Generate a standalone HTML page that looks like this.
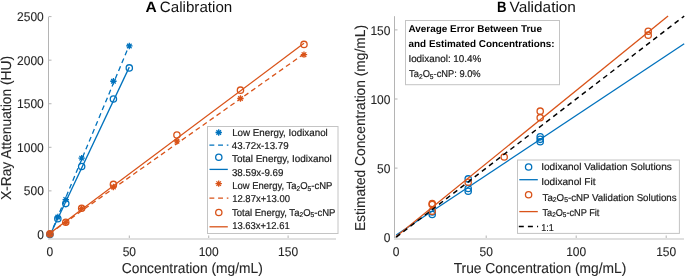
<!DOCTYPE html>
<html><head><meta charset="utf-8"><style>
html,body{margin:0;padding:0;background:#fff;}
body{width:685px;height:277px;overflow:hidden;}
svg{display:block;font-family:"Liberation Sans",sans-serif;text-rendering:geometricPrecision;will-change:transform;}
</style></head><body>
<svg width="685" height="277" viewBox="0 0 685 277">
<rect x="48" y="16.6" width="1" height="222.4" fill="#b4b4b4"/>
<rect x="48" y="238" width="288" height="2" fill="#e0e0e0"/>
<rect x="49" y="233.94" width="2.5" height="1" fill="#b4b4b4"/>
<text transform="translate(43.80,238.99) scale(0.9449,1)" font-size="12.7" text-anchor="end" fill="#262626" stroke="#262626" stroke-width="0.1">0</text>
<rect x="49" y="190.37" width="2.5" height="1" fill="#b4b4b4"/>
<text transform="translate(43.80,195.42) scale(0.9449,1)" font-size="12.7" text-anchor="end" fill="#262626" stroke="#262626" stroke-width="0.1">500</text>
<rect x="49" y="146.80" width="2.5" height="1" fill="#b4b4b4"/>
<text transform="translate(43.80,151.85) scale(0.9449,1)" font-size="12.7" text-anchor="end" fill="#262626" stroke="#262626" stroke-width="0.1">1000</text>
<rect x="49" y="103.23" width="2.5" height="1" fill="#b4b4b4"/>
<text transform="translate(43.80,108.28) scale(0.9449,1)" font-size="12.7" text-anchor="end" fill="#262626" stroke="#262626" stroke-width="0.1">1500</text>
<rect x="49" y="59.66" width="2.5" height="1" fill="#b4b4b4"/>
<text transform="translate(43.80,64.71) scale(0.9449,1)" font-size="12.7" text-anchor="end" fill="#262626" stroke="#262626" stroke-width="0.1">2000</text>
<rect x="49" y="16.09" width="2.5" height="1" fill="#b4b4b4"/>
<text transform="translate(43.80,21.14) scale(0.9449,1)" font-size="12.7" text-anchor="end" fill="#262626" stroke="#262626" stroke-width="0.1">2500</text>
<rect x="49.40" y="235.5" width="1" height="2.5" fill="#b4b4b4"/>
<text transform="translate(49.90,255.60) scale(0.9449,1)" font-size="12.7" text-anchor="middle" fill="#262626" stroke="#262626" stroke-width="0.1">0</text>
<rect x="128.80" y="235.5" width="1" height="2.5" fill="#b4b4b4"/>
<text transform="translate(129.30,255.60) scale(0.9449,1)" font-size="12.7" text-anchor="middle" fill="#262626" stroke="#262626" stroke-width="0.1">50</text>
<rect x="208.20" y="235.5" width="1" height="2.5" fill="#b4b4b4"/>
<text transform="translate(208.70,255.60) scale(0.9449,1)" font-size="12.7" text-anchor="middle" fill="#262626" stroke="#262626" stroke-width="0.1">100</text>
<rect x="287.60" y="235.5" width="1" height="2.5" fill="#b4b4b4"/>
<text transform="translate(288.10,255.60) scale(0.9449,1)" font-size="12.7" text-anchor="middle" fill="#262626" stroke="#262626" stroke-width="0.1">150</text>
<text transform="translate(192.30,272.60) scale(0.9583,1)" font-size="14.4" text-anchor="middle" fill="#262626" stroke="#262626" stroke-width="0.1">Concentration (mg/mL)</text>
<text transform="translate(11.20,128.00) rotate(-90) scale(0.9583,1)" font-size="14.4" text-anchor="middle" fill="#262626" stroke="#262626" stroke-width="0.1">X-Ray Attenuation (HU)</text>
<text transform="translate(145.60,11.70) scale(1.0357,1)" font-size="15" fill="#000" stroke="#000" stroke-width="0.0" font-weight="bold">A</text>
<text transform="translate(159.86,11.70) scale(1.0093,1)" font-size="15" fill="#111" stroke="#111" stroke-width="0.0" font-weight="normal">Calibration</text>
<path d="M46.70 234.44L53.10 234.44M47.64 232.18L52.16 236.70M49.90 231.24L49.90 237.64M52.16 232.18L47.64 236.70" stroke="#0072BD" stroke-width="1.3" fill="none"/>
<path d="M54.64 217.01L61.04 217.01M55.58 214.75L60.10 219.27M57.84 213.81L57.84 220.21M60.10 214.75L55.58 219.27" stroke="#0072BD" stroke-width="1.3" fill="none"/>
<path d="M62.58 199.58L68.98 199.58M63.52 197.32L68.04 201.85M65.78 196.38L65.78 202.78M68.04 197.32L63.52 201.85" stroke="#0072BD" stroke-width="1.3" fill="none"/>
<path d="M78.46 158.11L84.86 158.11M79.40 155.84L83.92 160.37M81.66 154.91L81.66 161.31M83.92 155.84L79.40 160.37" stroke="#0072BD" stroke-width="1.3" fill="none"/>
<path d="M110.22 81.25L116.62 81.25M111.16 78.99L115.68 83.51M113.42 78.05L113.42 84.45M115.68 78.99L111.16 83.51" stroke="#0072BD" stroke-width="1.3" fill="none"/>
<path d="M126.10 45.96L132.50 45.96M127.04 43.69L131.56 48.22M129.30 42.76L129.30 49.16M131.56 43.69L127.04 48.22" stroke="#0072BD" stroke-width="1.3" fill="none"/>
<line x1="49.90" y1="235.64" x2="129.30" y2="45.15" stroke="#0072BD" stroke-width="1.3" stroke-dasharray="5 3.5"/>
<circle cx="49.90" cy="234.44" r="3.15" stroke="#0072BD" stroke-width="1.3" fill="none"/>
<circle cx="57.84" cy="218.75" r="3.15" stroke="#0072BD" stroke-width="1.3" fill="none"/>
<circle cx="65.78" cy="203.59" r="3.15" stroke="#0072BD" stroke-width="1.3" fill="none"/>
<circle cx="81.66" cy="166.56" r="3.15" stroke="#0072BD" stroke-width="1.3" fill="none"/>
<circle cx="113.42" cy="98.94" r="3.15" stroke="#0072BD" stroke-width="1.3" fill="none"/>
<circle cx="129.30" cy="67.92" r="3.15" stroke="#0072BD" stroke-width="1.3" fill="none"/>
<line x1="49.90" y1="235.28" x2="129.30" y2="67.15" stroke="#0072BD" stroke-width="1.3"/>
<path d="M46.70 233.92L53.10 233.92M47.64 231.65L52.16 236.18M49.90 230.72L49.90 237.12M52.16 231.65L47.64 236.18" stroke="#D95319" stroke-width="1.3" fill="none"/>
<path d="M62.58 222.59L68.98 222.59M63.52 220.33L68.04 224.85M65.78 219.39L65.78 225.79M68.04 220.33L63.52 224.85" stroke="#D95319" stroke-width="1.3" fill="none"/>
<path d="M78.46 208.56L84.86 208.56M79.40 206.30L83.92 210.82M81.66 205.36L81.66 211.76M83.92 206.30L79.40 210.82" stroke="#D95319" stroke-width="1.3" fill="none"/>
<path d="M110.22 187.04L116.62 187.04M111.16 184.77L115.68 189.30M113.42 183.84L113.42 190.24M115.68 184.77L111.16 189.30" stroke="#D95319" stroke-width="1.3" fill="none"/>
<path d="M173.74 141.20L180.14 141.20M174.68 138.94L179.20 143.46M176.94 138.00L176.94 144.40M179.20 138.94L174.68 143.46" stroke="#D95319" stroke-width="1.3" fill="none"/>
<path d="M237.26 98.50L243.66 98.50M238.20 96.24L242.72 100.76M240.46 95.30L240.46 101.70M242.72 96.24L238.20 100.76" stroke="#D95319" stroke-width="1.3" fill="none"/>
<path d="M300.78 54.67L307.18 54.67M301.72 52.41L306.24 56.93M303.98 51.47L303.98 57.87M306.24 52.41L301.72 56.93" stroke="#D95319" stroke-width="1.3" fill="none"/>
<line x1="49.90" y1="233.31" x2="303.98" y2="53.87" stroke="#D95319" stroke-width="1.3" stroke-dasharray="5 3.5"/>
<circle cx="49.90" cy="233.92" r="3.15" stroke="#D95319" stroke-width="1.3" fill="none"/>
<circle cx="65.78" cy="222.24" r="3.15" stroke="#D95319" stroke-width="1.3" fill="none"/>
<circle cx="81.66" cy="208.30" r="3.15" stroke="#D95319" stroke-width="1.3" fill="none"/>
<circle cx="113.42" cy="184.42" r="3.15" stroke="#D95319" stroke-width="1.3" fill="none"/>
<circle cx="176.94" cy="134.93" r="3.15" stroke="#D95319" stroke-width="1.3" fill="none"/>
<circle cx="240.46" cy="90.14" r="3.15" stroke="#D95319" stroke-width="1.3" fill="none"/>
<circle cx="303.98" cy="44.39" r="3.15" stroke="#D95319" stroke-width="1.3" fill="none"/>
<line x1="49.90" y1="233.34" x2="303.98" y2="43.31" stroke="#D95319" stroke-width="1.3"/>
<rect x="207.5" y="126.5" width="130.5" height="107" fill="#fff" stroke="#c4c4c4" stroke-width="1"/>
<path d="M215.50 132.50L221.90 132.50M216.44 130.24L220.96 134.76M218.70 129.30L218.70 135.70M220.96 130.24L216.44 134.76" stroke="#0072BD" stroke-width="1.3" fill="none"/>
<text transform="translate(232.14,135.50) scale(0.9791,1)" font-size="10.0" fill="#1a1a1a" stroke="#1a1a1a" stroke-width="0.2" font-weight="normal">Low Energy, Iodixanol</text>
<line x1="209.40" y1="145.10" x2="228.40" y2="145.10" stroke="#0072BD" stroke-width="1.3" stroke-dasharray="4.9 3.8"/>
<text transform="translate(231.87,148.86) scale(0.9711,1)" font-size="10.0" fill="#1a1a1a" stroke="#1a1a1a" stroke-width="0.2" font-weight="normal">43.72x-13.79</text>
<circle cx="218.80" cy="157.30" r="3.15" stroke="#0072BD" stroke-width="1.3" fill="none"/>
<text transform="translate(231.98,162.22) scale(0.9942,1)" font-size="10.0" fill="#1a1a1a" stroke="#1a1a1a" stroke-width="0.2" font-weight="normal">Total Energy, Iodixanol</text>
<line x1="209.50" y1="169.40" x2="227.80" y2="169.40" stroke="#0072BD" stroke-width="1.3"/>
<text transform="translate(231.96,175.58) scale(0.9734,1)" font-size="10.0" fill="#1a1a1a" stroke="#1a1a1a" stroke-width="0.2" font-weight="normal">38.59x-9.69</text>
<path d="M215.50 183.60L221.90 183.60M216.44 181.34L220.96 185.86M218.70 180.40L218.70 186.80M220.96 181.34L216.44 185.86" stroke="#D95319" stroke-width="1.3" fill="none"/>
<text transform="translate(232.20,188.94) scale(0.9460,1)" font-size="10.0" fill="#1a1a1a" stroke="#1a1a1a" stroke-width="0.2" font-weight="normal">Low Energy, Ta<tspan font-size="7" dy="1.6">2</tspan><tspan dy="-1.6">O</tspan><tspan font-size="7" dy="1.6">5</tspan><tspan dy="-1.6">-cNP</tspan></text>
<line x1="209.40" y1="198.20" x2="228.40" y2="198.20" stroke="#D95319" stroke-width="1.3" stroke-dasharray="4.9 3.8"/>
<text transform="translate(232.16,202.30) scale(0.9493,1)" font-size="10.0" fill="#1a1a1a" stroke="#1a1a1a" stroke-width="0.2" font-weight="normal">12.87x+13.00</text>
<circle cx="218.80" cy="212.50" r="3.15" stroke="#D95319" stroke-width="1.3" fill="none"/>
<text transform="translate(232.00,215.66) scale(0.9526,1)" font-size="10.0" fill="#1a1a1a" stroke="#1a1a1a" stroke-width="0.2" font-weight="normal">Total Energy, Ta<tspan font-size="7" dy="1.6">2</tspan><tspan dy="-1.6">O</tspan><tspan font-size="7" dy="1.6">5</tspan><tspan dy="-1.6">-cNP</tspan></text>
<line x1="209.50" y1="226.80" x2="227.80" y2="226.80" stroke="#D95319" stroke-width="1.3"/>
<text transform="translate(232.16,229.02) scale(0.9442,1)" font-size="10.0" fill="#1a1a1a" stroke="#1a1a1a" stroke-width="0.2" font-weight="normal">13.63x+12.61</text>
<rect x="394" y="16.2" width="1" height="222.8" fill="#b4b4b4"/>
<rect x="394" y="238" width="290" height="2" fill="#e0e0e0"/>
<rect x="395" y="236.70" width="2.5" height="1" fill="#b4b4b4"/>
<text transform="translate(390.40,242.00) scale(0.9449,1)" font-size="12.7" text-anchor="end" fill="#262626" stroke="#262626" stroke-width="0.1">0</text>
<rect x="395.70" y="235.5" width="1" height="2.5" fill="#b4b4b4"/>
<text transform="translate(396.20,255.60) scale(0.9449,1)" font-size="12.7" text-anchor="middle" fill="#262626" stroke="#262626" stroke-width="0.1">0</text>
<rect x="395" y="167.60" width="2.5" height="1" fill="#b4b4b4"/>
<text transform="translate(390.40,172.90) scale(0.9449,1)" font-size="12.7" text-anchor="end" fill="#262626" stroke="#262626" stroke-width="0.1">50</text>
<rect x="485.70" y="235.5" width="1" height="2.5" fill="#b4b4b4"/>
<text transform="translate(486.20,255.60) scale(0.9449,1)" font-size="12.7" text-anchor="middle" fill="#262626" stroke="#262626" stroke-width="0.1">50</text>
<rect x="395" y="98.50" width="2.5" height="1" fill="#b4b4b4"/>
<text transform="translate(390.40,103.80) scale(0.9449,1)" font-size="12.7" text-anchor="end" fill="#262626" stroke="#262626" stroke-width="0.1">100</text>
<rect x="575.70" y="235.5" width="1" height="2.5" fill="#b4b4b4"/>
<text transform="translate(576.20,255.60) scale(0.9449,1)" font-size="12.7" text-anchor="middle" fill="#262626" stroke="#262626" stroke-width="0.1">100</text>
<rect x="395" y="29.40" width="2.5" height="1" fill="#b4b4b4"/>
<text transform="translate(390.40,34.70) scale(0.9449,1)" font-size="12.7" text-anchor="end" fill="#262626" stroke="#262626" stroke-width="0.1">150</text>
<rect x="665.70" y="235.5" width="1" height="2.5" fill="#b4b4b4"/>
<text transform="translate(666.20,255.60) scale(0.9449,1)" font-size="12.7" text-anchor="middle" fill="#262626" stroke="#262626" stroke-width="0.1">150</text>
<text transform="translate(540.00,272.60) scale(0.9583,1)" font-size="14.4" text-anchor="middle" fill="#262626" stroke="#262626" stroke-width="0.1">True Concentration (mg/mL)</text>
<text transform="translate(364.80,128.00) rotate(-90) scale(0.9583,1)" font-size="14.4" text-anchor="middle" fill="#262626" stroke="#262626" stroke-width="0.1">Estimated Concentration (mg/mL)</text>
<text transform="translate(496.88,11.70) scale(0.8753,1)" font-size="15" fill="#000" stroke="#000" stroke-width="0.0" font-weight="bold">B</text>
<text transform="translate(509.54,11.70) scale(1.0248,1)" font-size="15" fill="#111" stroke="#111" stroke-width="0.0" font-weight="normal">Validation</text>
<circle cx="432.20" cy="212.05" r="3.15" stroke="#0072BD" stroke-width="1.3" fill="none"/>
<circle cx="432.20" cy="214.54" r="3.15" stroke="#0072BD" stroke-width="1.3" fill="none"/>
<circle cx="468.20" cy="178.88" r="3.15" stroke="#0072BD" stroke-width="1.3" fill="none"/>
<circle cx="468.20" cy="188.55" r="3.15" stroke="#0072BD" stroke-width="1.3" fill="none"/>
<circle cx="468.20" cy="191.18" r="3.15" stroke="#0072BD" stroke-width="1.3" fill="none"/>
<circle cx="540.20" cy="136.87" r="3.15" stroke="#0072BD" stroke-width="1.3" fill="none"/>
<circle cx="540.20" cy="139.35" r="3.15" stroke="#0072BD" stroke-width="1.3" fill="none"/>
<circle cx="540.20" cy="141.70" r="3.15" stroke="#0072BD" stroke-width="1.3" fill="none"/>
<line x1="396.20" y1="234.99" x2="684.20" y2="43.72" stroke="#0072BD" stroke-width="1.3"/>
<circle cx="432.20" cy="203.48" r="3.15" stroke="#D95319" stroke-width="1.3" fill="none"/>
<circle cx="432.20" cy="204.45" r="3.15" stroke="#D95319" stroke-width="1.3" fill="none"/>
<circle cx="432.20" cy="211.36" r="3.15" stroke="#D95319" stroke-width="1.3" fill="none"/>
<circle cx="468.20" cy="182.20" r="3.15" stroke="#D95319" stroke-width="1.3" fill="none"/>
<circle cx="504.20" cy="157.04" r="3.15" stroke="#D95319" stroke-width="1.3" fill="none"/>
<circle cx="540.20" cy="111.16" r="3.15" stroke="#D95319" stroke-width="1.3" fill="none"/>
<circle cx="540.20" cy="117.66" r="3.15" stroke="#D95319" stroke-width="1.3" fill="none"/>
<circle cx="648.20" cy="31.28" r="3.15" stroke="#D95319" stroke-width="1.3" fill="none"/>
<circle cx="648.20" cy="35.15" r="3.15" stroke="#D95319" stroke-width="1.3" fill="none"/>
<line x1="396.20" y1="236.51" x2="668.08" y2="16.08" stroke="#D95319" stroke-width="1.3"/>
<line x1="396.20" y1="237.20" x2="684.20" y2="16.08" stroke="#000" stroke-width="1.45" stroke-dasharray="5 4"/>
<rect x="405.5" y="20.5" width="154" height="64.2" fill="#fff" stroke="#c4c4c4" stroke-width="1"/>
<text transform="translate(408.38,31.60) scale(1.0083,1)" font-size="9.9" fill="#000" stroke="#000" stroke-width="0.0" font-weight="bold">Average Error Between True</text>
<text transform="translate(408.57,46.80) scale(1.0005,1)" font-size="9.9" fill="#000" stroke="#000" stroke-width="0.0" font-weight="bold">and Estimated Concentrations:</text>
<text transform="translate(408.39,62.00) scale(0.9992,1)" font-size="9.9" fill="#1a1a1a" stroke="#1a1a1a" stroke-width="0.2" font-weight="normal">Iodixanol: 10.4%</text>
<text transform="translate(409.12,77.10) scale(0.9420,1)" font-size="9.9" fill="#1a1a1a" stroke="#1a1a1a" stroke-width="0.2" font-weight="normal">Ta<tspan font-size="7" dy="1.6">2</tspan><tspan dy="-1.6">O</tspan><tspan font-size="7" dy="1.6">5</tspan><tspan dy="-1.6">-cNP: 9.0%</tspan></text>
<rect x="517.5" y="160" width="161.9" height="73.4" fill="#fff" stroke="#c4c4c4" stroke-width="1"/>
<circle cx="528.60" cy="167.00" r="3.15" stroke="#0072BD" stroke-width="1.3" fill="none"/>
<text transform="translate(541.16,170.30) scale(1.0059,1)" font-size="10.0" fill="#1a1a1a" stroke="#1a1a1a" stroke-width="0.2" font-weight="normal">Iodixanol Validation Solutions</text>
<line x1="519.30" y1="179.70" x2="537.80" y2="179.70" stroke="#0072BD" stroke-width="1.3"/>
<text transform="translate(541.18,185.43) scale(1.0078,1)" font-size="10.0" fill="#1a1a1a" stroke="#1a1a1a" stroke-width="0.2" font-weight="normal">Iodixanol Fit</text>
<circle cx="528.60" cy="194.70" r="3.15" stroke="#D95319" stroke-width="1.3" fill="none"/>
<text transform="translate(542.56,200.56) scale(0.9706,1)" font-size="10.0" fill="#1a1a1a" stroke="#1a1a1a" stroke-width="0.2" font-weight="normal">Ta<tspan font-size="7" dy="1.6">2</tspan><tspan dy="-1.6">O</tspan><tspan font-size="7" dy="1.6">5</tspan><tspan dy="-1.6">-cNP Validation Solutions</tspan></text>
<line x1="519.30" y1="211.60" x2="537.80" y2="211.60" stroke="#D95319" stroke-width="1.3"/>
<text transform="translate(542.45,215.69) scale(0.9169,1)" font-size="10.0" fill="#1a1a1a" stroke="#1a1a1a" stroke-width="0.2" font-weight="normal">Ta<tspan font-size="7" dy="1.6">2</tspan><tspan dy="-1.6">O</tspan><tspan font-size="7" dy="1.6">5</tspan><tspan dy="-1.6">-cNP Fit</tspan></text>
<line x1="518.80" y1="226.60" x2="538.10" y2="226.60" stroke="#000" stroke-width="1.5" stroke-dasharray="5 4.1"/>
<text transform="translate(541.27,230.82) scale(0.8999,1)" font-size="10.0" fill="#1a1a1a" stroke="#1a1a1a" stroke-width="0.2" font-weight="normal">1:1</text>
</svg>
</body></html>
